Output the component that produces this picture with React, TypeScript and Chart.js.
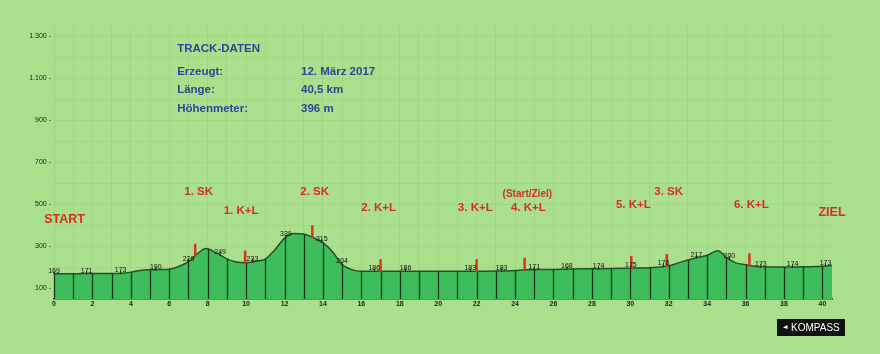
import { useEffect, useRef } from "react";
import { Chart, registerables } from "chart.js";

Chart.register(...registerables);

// Elevation profile (km, metres)
const profileKm = [0, 0.5, 1, 1.5, 2, 2.5, 3, 3.5, 4, 4.5, 5, 5.5, 6, 6.5, 7, 7.5, 7.9, 8.5, 9, 9.5, 10, 10.5, 11, 11.5, 12, 12.5, 13, 13.5, 14, 14.5, 15, 15.5, 16, 17, 18, 19, 20, 21, 22, 23, 24, 24.5, 25, 26, 27, 28, 29, 30, 31, 32, 32.5, 33, 33.5, 34, 34.3, 34.55, 34.8, 35, 35.5, 36, 36.5, 37, 38, 39, 40, 40.5];
const profileElev = [170, 170, 170, 171, 171, 172, 172, 173, 178, 186, 189, 190, 192, 205, 228, 268, 290, 267, 241, 226, 223, 230, 240, 285, 340, 362, 360, 342, 318, 275, 214, 190, 182, 182, 182, 182, 182, 182, 182, 183, 186, 189, 190, 191, 193, 194, 195, 197, 199, 208, 222, 236, 248, 258, 272, 280, 266, 248, 222, 213, 206, 203, 202, 203, 206, 209];

const xTickLabels = [0, 2, 4, 6, 8, 10, 12, 14, 16, 18, 20, 22, 24, 26, 28, 30, 32, 34, 36, 38, 40];
const yTickValues = [100, 300, 500, 700, 900, 1100, 1300];
const yTickLabels = ["100", "300", "500", "700", "900", "1.100", "1.300"];

const elevLabelKm = [0, 1.7, 3.47, 5.3, 7.0, 8.65, 10.33, 12.07, 13.94, 15.0, 16.67, 18.3, 21.67, 23.3, 25.0, 26.7, 28.35, 30.03, 31.73, 33.44, 35.16, 36.8, 38.45, 40.16];
const elevLabelText = ["169", "171", "173", "190", "229", "249", "233", "339", "315", "204", "186", "186", "183", "183", "171", "168", "174", "175", "176", "217", "200", "173", "174", "173"];

const markerKm = [7.35, 9.95, 13.45, 17.0, 22.0, 24.5, 30.05, 31.9, 36.2];

const stopLabels = ["START", "1. SK", "1. K+L", "2. SK", "2. K+L", "3. K+L", "(Start/Ziel)", "4. K+L", "5. K+L", "3. SK", "6. K+L", "ZIEL"];
const stopKm = [0.55, 7.53, 9.74, 13.57, 16.9, 21.93, 24.64, 24.69, 30.16, 32.0, 36.3, 40.5];
const stopElev = [429, 558, 472, 562, 486, 486, 548, 486, 500, 562, 500, 462];

const trackTitle = "TRACK-DATEN";
const trackKeys = ["Erzeugt:", "Länge:", "Höhenmeter:"];
const trackValues = ["12. März 2017", "40,5 km", "396 m"];
const trackRowElev = [1131, 1044, 957];

const FONT = "'Liberation Sans', Arial, sans-serif";

function elevAt(km: number): number {
  for (let i = 0; i < profileKm.length - 1; i++) {
    if (km >= profileKm[i] && km <= profileKm[i + 1]) {
      const t = (km - profileKm[i]) / (profileKm[i + 1] - profileKm[i]);
      return profileElev[i] + t * (profileElev[i + 1] - profileElev[i]);
    }
  }
  return profileElev[profileElev.length - 1];
}

const overlayPlugin = {
  id: "overlay",
  afterDatasetsDraw(chart: any) {
    const ctx = chart.ctx as CanvasRenderingContext2D;
    const xs = chart.scales.x;
    const ys = chart.scales.y;
    const area = chart.chartArea;
    ctx.save();
    // km division lines
    ctx.strokeStyle = "#173a1c";
    ctx.lineWidth = 1.3;
    for (let k = 0; k <= 40; k++) {
      const px = Math.round(xs.getPixelForValue(k)) + 0.5;
      const py = ys.getPixelForValue(elevAt(k));
      ctx.beginPath();
      ctx.moveTo(px, py);
      ctx.lineTo(px, area.bottom);
      ctx.stroke();
    }
    // red markers
    ctx.strokeStyle = "#e0301e";
    ctx.lineWidth = 2.5;
    markerKm.forEach((km) => {
      const px = xs.getPixelForValue(km);
      const py = ys.getPixelForValue(elevAt(km));
      ctx.beginPath();
      ctx.moveTo(px, py + 1);
      ctx.lineTo(px, py - 12);
      ctx.stroke();
    });
    // elevation labels
    ctx.fillStyle = "#111";
    ctx.strokeStyle = "#111";
    ctx.lineWidth = 0.8;
    ctx.font = `7px ${FONT}`;
    ctx.textAlign = "center";
    ctx.textBaseline = "bottom";
    elevLabelKm.forEach((km, i) => {
      const px = xs.getPixelForValue(km);
      const py = ys.getPixelForValue(elevAt(km));
      ctx.fillText(elevLabelText[i], px, py + 0.5);
      ctx.beginPath();
      ctx.moveTo(px, py - 3);
      ctx.lineTo(px, py + 1);
      ctx.stroke();
    });
    // stop labels
    ctx.fillStyle = "#d3301f";
    ctx.textBaseline = "middle";
    stopLabels.forEach((t, i) => {
      let size = 11.5;
      if (t === "START" || t === "ZIEL") size = 12.5;
      if (t.startsWith("(")) size = 10;
      ctx.font = `bold ${size}px ${FONT}`;
      ctx.fillText(t, xs.getPixelForValue(stopKm[i]), ys.getPixelForValue(stopElev[i]));
    });
    // track data
    ctx.fillStyle = "#2a4896";
    ctx.textAlign = "left";
    ctx.font = `bold 11.5px ${FONT}`;
    const x1 = xs.getPixelForValue(6.41);
    const x2 = xs.getPixelForValue(12.86);
    ctx.fillText(trackTitle, x1, ys.getPixelForValue(1239));
    trackKeys.forEach((k, i) => {
      const py = ys.getPixelForValue(trackRowElev[i]);
      ctx.fillText(k, x1, py);
      ctx.fillText(trackValues[i], x2, py);
    });
    // KOMPASS logo
    ctx.fillStyle = "#111";
    ctx.fillRect(777, 319, 68, 17);
    ctx.fillStyle = "#fff";
    ctx.beginPath();
    ctx.moveTo(783, 327.5);
    ctx.lineTo(787.5, 325);
    ctx.lineTo(787.5, 329);
    ctx.closePath();
    ctx.fill();
    ctx.font = `10px ${FONT}`;
    ctx.textBaseline = "middle";
    ctx.fillText("KOMPASS", 791, 328);
    ctx.restore();
  },
};

export default function App() {
  const ref = useRef<HTMLCanvasElement | null>(null);
  useEffect(() => {
    if (!ref.current) return;
    const chart = new Chart(ref.current, {
      type: "line",
      data: {
        datasets: [
          {
            data: profileKm.map((k, i) => ({ x: k, y: profileElev[i] })),
            borderColor: "#1f5526",
            borderWidth: 1.5,
            backgroundColor: "#3dbd5c",
            fill: "start",
            pointRadius: 0,
            tension: 0.35,
            cubicInterpolationMode: "monotone",
          },
        ],
      },
      options: {
        animation: false,
        responsive: false,
        devicePixelRatio: 1,
        layout: { padding: { top: 26, right: 48, left: 0, bottom: 0 } },
        plugins: { legend: { display: false }, tooltip: { enabled: false } },
        scales: {
          x: {
            type: "linear",
            min: 0,
            max: 40.5,
            afterBuildTicks: (s: any) => {
              const t = [];
              for (let k = 0; k <= 40; k++) t.push({ value: k });
              s.ticks = t;
            },
            afterFit: (s: any) => {
              s.height = 55;
            },
            ticks: {
              autoSkip: false,
              maxRotation: 0,
              padding: 1,
              color: "#222",
              font: { family: FONT, size: 7, weight: "bold" },
              callback: (v: any) => (xTickLabels.includes(v) ? String(v) : ""),
            },
            grid: { color: "rgba(90,150,70,0.11)", drawTicks: false },
            border: { display: true, color: "#1f4a24", width: 1.5 },
          },
          y: {
            type: "linear",
            min: 50,
            max: 1350,
            afterBuildTicks: (s: any) => {
              const t = [];
              for (let v = 100; v <= 1300; v += 100) t.push({ value: v });
              s.ticks = t;
            },
            afterFit: (s: any) => {
              s.width = 54;
            },
            ticks: {
              autoSkip: false,
              padding: 3,
              color: "#222",
              font: { family: FONT, size: 7 },
              callback: (v: any) => {
                const i = yTickValues.indexOf(v);
                return i >= 0 ? yTickLabels[i] + " -" : "";
              },
            },
            grid: { color: "rgba(90,150,70,0.11)", drawTicks: false },
            border: { display: false },
          },
        },
      },
      plugins: [overlayPlugin],
    } as any);
    return () => chart.destroy();
  }, []);
  return (
    <div style={{ position: "fixed", left: 0, top: 0, width: 880, height: 354, background: "#aadf8c" }}>
      <canvas ref={ref} width={880} height={354} style={{ width: 880, height: 354, display: "block" }} />
    </div>
  );
}
